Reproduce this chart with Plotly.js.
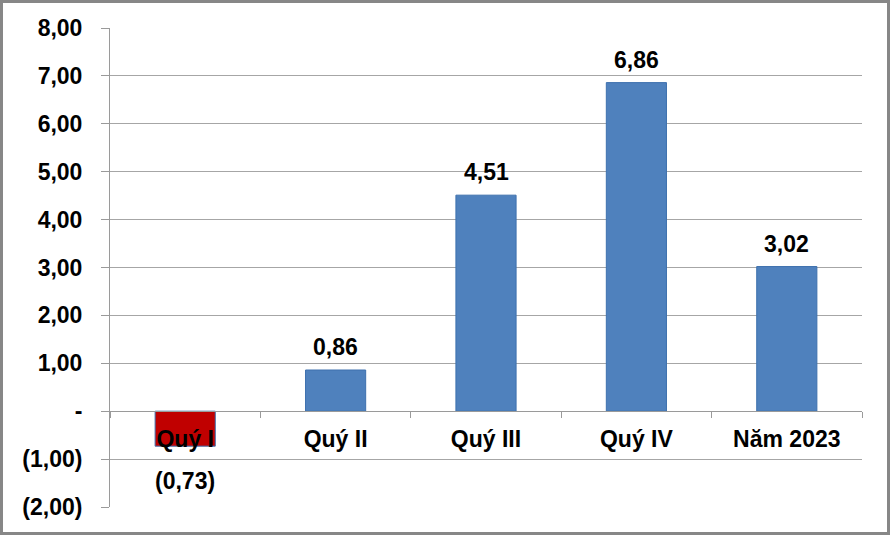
<!DOCTYPE html>
<html>
<head>
<meta charset="utf-8">
<script src="https://cdn.plot.ly/plotly-3.0.1.min.js"></script>
<style>
  html, body { margin: 0; padding: 0; background: #fff; }
  #wrap { position: relative; width: 890px; height: 535px; }
  #chart { width: 890px; height: 535px; }
  #frame { position: absolute; left: 0; top: 0; width: 890px; height: 535px; box-sizing: border-box;
           border: 3px solid #878787; pointer-events: none; }
</style>
</head>
<body>
<div id="wrap"><div id="chart"></div><div id="frame"></div></div>
<script>
const categories = ["Quý I", "Quý II", "Quý III", "Quý IV", "Năm 2023"];
const values = [-0.73, 0.86, 4.51, 6.86, 3.02];
const barColors = ["#C00000", "#4F81BD", "#4F81BD", "#4F81BD", "#4F81BD"];
const tickVals = [-2, -1, 0, 1, 2, 3, 4, 5, 6, 7, 8];
const tickText = ["(2,00)", "(1,00)", "-", "1,00", "2,00", "3,00", "4,00", "5,00", "6,00", "7,00", "8,00"];

const fmt = v => {
  const s = Math.abs(v).toFixed(2).replace(".", ",");
  return v < 0 ? "(" + s + ")" : s;
};

const font = { family: "Liberation Sans, Arial, sans-serif", size: 23, color: "#000" };

const trace = {
  type: "bar",
  x: categories,
  y: values,
  marker: { color: barColors, line: { color: "#3E71AE", width: 1 } },
  hoverinfo: "skip",
  width: 0.4
};

const annotations = categories.map((c, i) => ({
  x: c,
  y: values[i],
  xref: "x",
  yref: "y",
  text: "<b>" + fmt(values[i]) + "</b>",
  showarrow: false,
  font: font,
  yanchor: values[i] < 0 ? "top" : "bottom",
  yshift: values[i] < 0 ? -20 : 8
}));

const layout = {
  width: 890,
  height: 535,
  margin: { l: 110, r: 28, t: 28, b: 28 },
  paper_bgcolor: "#fff",
  plot_bgcolor: "#fff",
  showlegend: false,
  font: font,
  xaxis: {
    type: "category",
    anchor: "free",
    position: 0.2,
    showline: true,
    linecolor: "#9a9a9a",
    linewidth: 1,
    ticks: "outside",
    tickson: "boundaries",
    ticklen: 6,
    tickcolor: "#9a9a9a",
    ticklabelstandoff: 7,
    tickfont: font,
    tickprefix: "<b>",
    ticksuffix: "</b>",
    showgrid: false,
    zeroline: false,
    fixedrange: true
  },
  yaxis: {
    range: [-2, 8],
    tickvals: tickVals,
    ticktext: tickText.map(t => "<b>" + t + "</b>"),
    showgrid: true,
    gridcolor: "#a6a6a6",
    gridwidth: 1,
    zeroline: false,
    showline: true,
    linecolor: "#9a9a9a",
    ticks: "outside",
    ticklen: 8,
    tickcolor: "#9a9a9a",
    ticklabelstandoff: 14,
    tickfont: font,
    fixedrange: true
  },
  annotations: annotations
};

Plotly.newPlot("chart", [trace], layout, { displayModeBar: false, staticPlot: true });
</script>
</body>
</html>
